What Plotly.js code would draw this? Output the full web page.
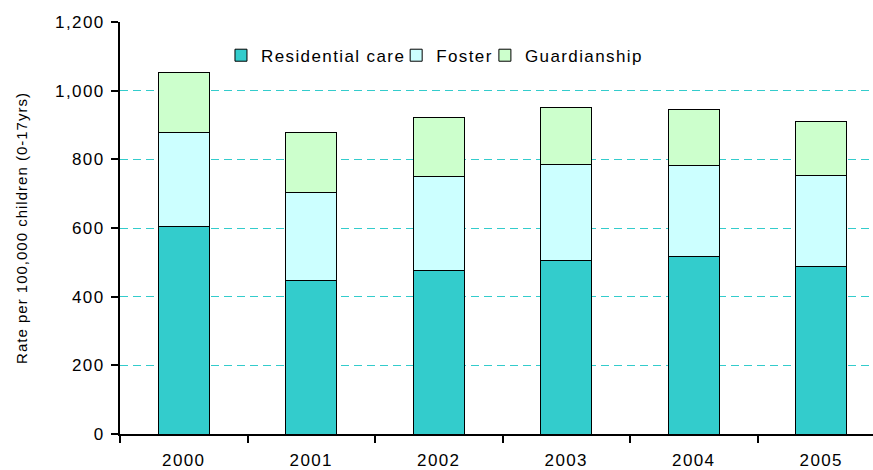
<!DOCTYPE html>
<html>
<head>
<meta charset="utf-8">
<script src="https://cdn.plot.ly/plotly-3.0.1.min.js"></script>
<style>
html,body{margin:0;padding:0;overflow:hidden;background:#fff;width:873px;height:470px;}
#chart{width:886px;height:470px;}
svg text{letter-spacing:1.4px;}
svg text.ytitle{letter-spacing:1.0px;}
</style>
</head>
<body>
<div id="chart"></div>
<script>
const years = ['2000','2001','2002','2003','2004','2005'];
const residential = [603, 447, 475, 506, 516, 489];
const foster = [274, 255, 275, 279, 267, 263];
const guardianship = [177, 176, 172, 167, 161, 159];
const yTicks = [0, 200, 400, 600, 800, 1000, 1200];
const yTickText = ['0', '200', '400', '600', '800', '1,000', '1,200'];

function bar(name, vals, color, legendId) {
  return {
    type: 'bar', name: name, x: years, y: vals, legend: legendId,
    marker: {color: color, line: {color: '#000', width: 1}},
    hoverinfo: 'none'
  };
}
const data = [
  bar('Residential care', residential, '#33CCCC', 'legend'),
  bar('Foster', foster, '#CCFFFF', 'legend2'),
  bar('Guardianship', guardianship, '#CCFFCC', 'legend3')
];
function leg(x) {
  return {
    orientation: 'h', x: x, xanchor: 'left', y: 0.962, yanchor: 'top',
    bgcolor: 'rgba(0,0,0,0)', font: {size: 17, color: '#000'},
    itemclick: false, itemdoubleclick: false
  };
}
const layout = {
  width: 886, height: 470,
  margin: {l: 120, r: 1, t: 22, b: 36},
  paper_bgcolor: '#fff', plot_bgcolor: '#fff',
  barmode: 'stack', bargap: 0.6,
  font: {family: 'Liberation Sans, Arial, sans-serif', size: 17, color: '#000'},
  showlegend: true,
  legend: leg(0.132),
  legend2: leg(0.361),
  legend3: leg(0.477),
  xaxis: {
    type: 'category', range: [-0.5, 5.5], showgrid: false,
    showline: true, linecolor: '#000', linewidth: 2,
    ticks: 'outside', tickson: 'boundaries', ticklen: 7, tickwidth: 2, tickcolor: '#000',
    tickfont: {size: 17}, ticklabelstandoff: 10, fixedrange: true
  },
  yaxis: {
    range: [0, 1200], tickvals: yTicks, ticktext: yTickText,
    showgrid: true, gridcolor: '#33CCCC', gridwidth: 1, griddash: '8px,5px',
    showline: true, linecolor: '#000', linewidth: 2, zeroline: false,
    ticks: 'outside', ticklen: 7, tickwidth: 2, tickcolor: '#000',
    tickfont: {size: 17}, ticklabelstandoff: 3,
    title: {text: 'Rate per 100,000 children (0-17yrs)', font: {size: 15}, standoff: 24},
    fixedrange: true
  }
};
Plotly.newPlot('chart', data, layout, {displayModeBar: false, staticPlot: true});
</script>
</body>
</html>
